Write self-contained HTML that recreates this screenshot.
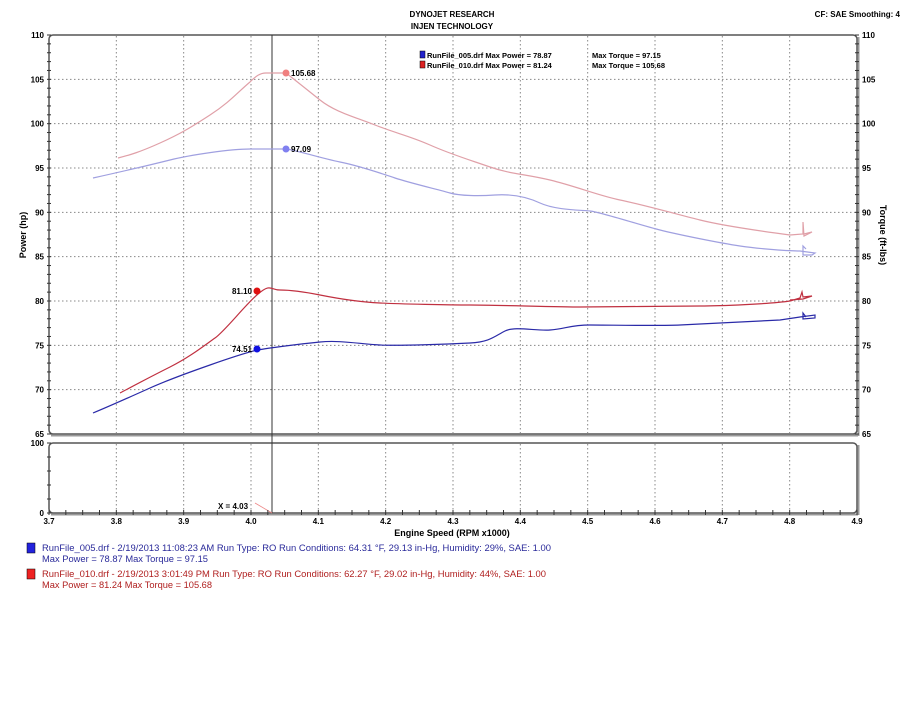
<!DOCTYPE html>
<html><head><meta charset="utf-8">
<style>
html,body{margin:0;padding:0;background:#fff;}
body{width:905px;height:700px;overflow:hidden;font-family:"Liberation Sans",sans-serif;}
svg text{font-family:"Liberation Sans",sans-serif;}
</style></head>
<body>
<svg id="s" width="905" height="700" xmlns="http://www.w3.org/2000/svg">
<text x="452" y="17" font-size="8" font-weight="bold" text-anchor="middle">DYNOJET RESEARCH</text>
<text x="452" y="29" font-size="8" font-weight="bold" text-anchor="middle">INJEN TECHNOLOGY</text>
<text x="900" y="17" font-size="8" font-weight="bold" text-anchor="end">CF: SAE  Smoothing: 4</text>
<g id="grid"></g>
<rect x="49" y="35" width="808" height="399" rx="4" fill="none" stroke="#555" stroke-width="1.5"/>
<line x1="51" y1="435.5" x2="858" y2="435.5" stroke="#999" stroke-width="2"/>
<line x1="858.5" y1="37" x2="858.5" y2="436" stroke="#999" stroke-width="2"/>
<rect x="49" y="443" width="808" height="70" rx="4" fill="none" stroke="#555" stroke-width="1.5"/>
<line x1="51" y1="514.5" x2="858" y2="514.5" stroke="#999" stroke-width="2"/>
<line x1="858.5" y1="445" x2="858.5" y2="515" stroke="#999" stroke-width="2"/>
<line x1="272" y1="35" x2="272" y2="513" stroke="#333" stroke-width="1"/>
<line x1="255" y1="503" x2="272" y2="513" stroke="#e88" stroke-width="0.8"/>
<text x="218" y="509" font-size="8" font-weight="bold">X = 4.03</text>
<g id="ax"></g>
<text x="26" y="235" font-size="9" font-weight="bold" text-anchor="middle" transform="rotate(-90 26 235)">Power (hp)</text>
<text x="880" y="235" font-size="9" font-weight="bold" text-anchor="middle" transform="rotate(90 880 235)">Torque (ft-lbs)</text>
<text x="452" y="536" font-size="9" font-weight="bold" text-anchor="middle">Engine Speed (RPM x1000)</text>
<rect x="420" y="51" width="5" height="7" fill="#22c" stroke="#000" stroke-width="0.5"/>
<rect x="420" y="61" width="5" height="7" fill="#d22" stroke="#000" stroke-width="0.5"/>
<text x="427" y="58" font-size="7.5" font-weight="bold">RunFile_005.drf Max Power = 78.87</text>
<text x="592" y="58" font-size="7.5" font-weight="bold">Max Torque = 97.15</text>
<text x="427" y="68" font-size="7.5" font-weight="bold">RunFile_010.drf Max Power = 81.24</text>
<text x="592" y="68" font-size="7.5" font-weight="bold">Max Torque = 105.68</text>
<g fill="none" stroke-width="1.2">
<path stroke="#e0a0a8" d="M118,158 C130,155 140,152 160,143 S190,128 210,115 S238,92 250,82 C256,76 260,73 266,73 L286,73 C295,80 305,88 320,100 S355,117 375,125 S410,136 430,145 S470,160 490,167 S525,174 550,180 S600,196 620,200 S680,215 700,220 S760,231 790,235 L803,234 L803,222 L804,236 L812,232 L804,234"/>
<path stroke="#a0a0e0" d="M93,178 C120,172 150,165 170,160 S230,149 250,149 S280,149 286,149 S320,158 340,162 S380,173 395,178 S440,190 450,193 S480,196 495,195 S525,196 540,203 S580,210 590,211 S640,225 660,230 S720,243 740,246 S790,251 800,251 L815,253 L812,255 L803,255 L803,246 L806,249"/>
<path stroke="#c03040" d="M120,393 C135,385 150,377 170,367 S205,345 215,338 S245,305 258,294 S270,290 280,290 S300,291 320,295 S360,302 380,303 S450,305 470,305 S560,307 580,307 S680,306 700,306 S770,304 790,301 L800,298 L802,292 L803,297 L812,296 L803,299 L790,300"/>
<path stroke="#2a2aa8" d="M93,413 C110,406 130,397 150,388 S190,372 210,365 S248,352 258,350 S300,344 320,342 S360,344 380,345 S450,344 470,343 S495,336 505,331 S535,331 550,330 S570,325 590,325 S660,326 680,325 S760,321 780,320 L800,317 L815,315 L815,318 L803,319 L803,313 L806,317"/>
</g>
<circle cx="286" cy="73" r="3.5" fill="#f08080"/>
<circle cx="286" cy="149" r="3.5" fill="#8080f0"/>
<circle cx="257" cy="291" r="3.5" fill="#e01010"/>
<circle cx="257" cy="349" r="3.5" fill="#1010e0"/>
<text x="291" y="76" font-size="8" font-weight="bold">105.68</text>
<text x="291" y="152" font-size="8" font-weight="bold">97.09</text>
<text x="252" y="294" font-size="8" font-weight="bold" text-anchor="end">81.10</text>
<text x="252" y="352" font-size="8" font-weight="bold" text-anchor="end">74.51</text>
<rect x="27" y="543" width="8" height="10" fill="#22d" stroke="#000" stroke-width="0.5"/>
<text x="42" y="551" font-size="9" fill="#2a2a9a" textLength="509" lengthAdjust="spacingAndGlyphs">RunFile_005.drf - 2/19/2013 11:08:23 AM  Run Type: RO  Run Conditions: 64.31 °F, 29.13 in-Hg,  Humidity:  29%, SAE: 1.00</text>
<text x="42" y="562" font-size="9" fill="#2a2a9a" textLength="166" lengthAdjust="spacingAndGlyphs">Max Power = 78.87  Max Torque = 97.15</text>
<rect x="27" y="569" width="8" height="10" fill="#e22" stroke="#000" stroke-width="0.5"/>
<text x="42" y="577" font-size="9" fill="#b02020" textLength="504" lengthAdjust="spacingAndGlyphs">RunFile_010.drf - 2/19/2013 3:01:49 PM  Run Type: RO  Run Conditions: 62.27 °F, 29.02 in-Hg,  Humidity:  44%, SAE: 1.00</text>
<text x="42" y="588" font-size="9" fill="#b02020" textLength="170" lengthAdjust="spacingAndGlyphs">Max Power = 81.24  Max Torque = 105.68</text>
</svg>
<script>
var NS="http://www.w3.org/2000/svg";
function el(p,t,a,txt){var e=document.createElementNS(NS,t);for(var k in a)e.setAttribute(k,a[k]);if(txt!=null)e.textContent=txt;document.getElementById(p).appendChild(e);}
function X(r){return 49+(r-3.7)*(808/1.2);}
function Y(v){return 35+(110-v)*(399/45);}
for(var i=1;i<12;i++){var x=X(3.7+i*0.1);el("grid","line",{x1:x,y1:36,x2:x,y2:433,stroke:"#888","stroke-dasharray":"1.5,2.5","stroke-width":1});el("grid","line",{x1:x,y1:444,x2:x,y2:512,stroke:"#888","stroke-dasharray":"1.5,2.5","stroke-width":1});}
for(var v=70;v<=105;v+=5){var y=Y(v);el("grid","line",{x1:50,y1:y,x2:856,y2:y,stroke:"#888","stroke-dasharray":"1.5,2.5","stroke-width":1});}
for(var v=65;v<=110;v+=5){var y=Y(v);el("ax","text",{x:44,y:y+3,"font-size":8,"font-weight":"bold","text-anchor":"end"},String(v));el("ax","text",{x:862,y:y+3,"font-size":8,"font-weight":"bold"},String(v));}
for(var v=65;v<=110;v++){var y=Y(v);el("ax","line",{x1:47,y1:y,x2:51,y2:y,stroke:"#333"});el("ax","line",{x1:855,y1:y,x2:859,y2:y,stroke:"#333"});}
for(var i=0;i<=12;i++){var r=3.7+i*0.1;el("ax","text",{x:X(r),y:524,"font-size":8,"font-weight":"bold","text-anchor":"middle"},r.toFixed(1));}
for(var i=0;i<=48;i++){var x=X(3.7+i*0.025);el("ax","line",{x1:x,y1:510,x2:x,y2:515,stroke:"#333"});}
el("ax","text",{x:44,y:446,"font-size":8,"font-weight":"bold","text-anchor":"end"},"100");
el("ax","text",{x:44,y:516,"font-size":8,"font-weight":"bold","text-anchor":"end"},"0");
for(var i=0;i<=5;i++){var y=443+i*14;el("ax","line",{x1:47,y1:y,x2:51,y2:y,stroke:"#333"});}
</script>
</body></html>
